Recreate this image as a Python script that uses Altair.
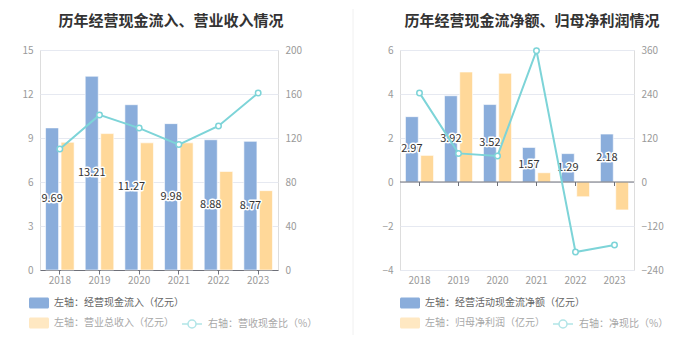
import altair as alt
import pandas as pd

years = ["2018", "2019", "2020", "2021", "2022", "2023"]

# left panel (亿元 / %)
inflow = [9.69, 13.21, 11.27, 9.98, 8.88, 8.77]
revenue = [8.71, 9.30, 8.67, 8.67, 6.72, 5.41]
cash_ratio = [110, 141, 129, 114, 131, 161]

# right panel (亿元 / %)
net_cf = [2.97, 3.92, 3.52, 1.57, 1.29, 2.18]
net_profit = [1.21, 5.00, 4.94, 0.42, -0.67, -1.27]
net_ratio = [243, 78, 71, 358, -191, -172]

L_TITLE = "历年经营现金流入、营业收入情况"
R_TITLE = "历年经营现金流净额、归母净利润情况"
L_NAMES = ["左轴：经营现金流入（亿元）", "左轴：营业总收入（亿元）", "右轴：营收现金比（%）"]
R_NAMES = ["左轴：经营活动现金流净额（亿元）", "左轴：归母净利润（亿元）", "右轴：净现比（%）"]

FONT = "Noto Sans CJK SC"
BLUE = "#8aaddb"
ORANGE = "#ffd899"
TEAL = "#7dd4d8"
AXIS = "#6e7079"
GRID = "#e6e9f1"
LABEL = "#9a9a9a"

BAR_SYMBOL = ("M-0.85,-0.55H0.85A0.15,0.15 0 0 1 1,-0.4V0.4A0.15,0.15 0 0 1 0.85,0.55"
              "H-0.85A0.15,0.15 0 0 1 -1,0.4V-0.4A0.15,0.15 0 0 1 -0.85,-0.55Z")
LINE_SYMBOL = "M-1,0H-0.4M0.4,0H1M-0.4,0A0.4,0.4 0 1 0 0.4,0A0.4,0.4 0 1 0 -0.4,0"

H = 220


def bar_legend(x, y, opacity, color):
    return alt.Legend(title=None, orient="none", legendX=x, legendY=y, padding=0,
                      symbolType=BAR_SYMBOL, symbolSize=400, symbolStrokeWidth=0,
                      symbolOpacity=opacity, labelColor=color, labelFontSize=10,
                      labelFont=FONT, labelLimit=500, labelOffset=5)


def line_legend(x, y):
    return alt.Legend(title=None, orient="none", legendX=x, legendY=y, padding=0,
                      symbolType=LINE_SYMBOL, symbolSize=400, symbolStrokeWidth=1.5,
                      symbolFillColor="white", symbolOpacity=0.6, labelColor="#a8a8a8",
                      labelFontSize=10, labelFont=FONT, labelLimit=500, labelOffset=5)


def panel(title, dx, names, bar1, bar2, ratio, ydom, yvals, rdom, rvals, width,
          zero_axis, lx, line_lx, rules):
    n1, n2, n3 = names
    df = pd.DataFrame({"year": years * 2, "series": [n1] * 6 + [n2] * 6,
                       "value": bar1 + bar2})
    dl = pd.DataFrame({"year": years, "series": [n3] * 6, "ratio": ratio})
    one = pd.DataFrame({"a": [0]})

    if zero_axis:
        xaxis = alt.Axis(title=None, labelAngle=0, domainOpacity=0, tickOpacity=0,
                         tickSize=4, labelPadding=1, labelColor=LABEL, labelFontSize=10,
                         grid=False)
    else:
        xaxis = alt.Axis(title=None, labelAngle=0, domainColor=AXIS, tickColor=AXIS,
                         tickSize=4, labelPadding=1, labelColor=LABEL, labelFontSize=10,
                         grid=False)
    x = alt.X("year:N", sort=years, scale=alt.Scale(paddingInner=0.28, paddingOuter=0.14),
              axis=xaxis)
    xo = alt.XOffset("series:N", scale=alt.Scale(domain=[n1, n2], paddingInner=0.16,
                                                 paddingOuter=0))
    yscale = alt.Scale(domain=ydom, nice=False, zero=False)
    yaxis = alt.Axis(values=yvals, title=None, domain=False, ticks=False, tickSize=0,
                     labelColor=LABEL, labelFontSize=10, labelPadding=7,
                     gridColor=GRID, grid=True, orient="left")

    def Y(field):
        return alt.Y(field, scale=yscale, axis=yaxis)

    base = alt.Chart(df)
    blue = base.transform_filter(alt.datum.series == n1).mark_bar(
        stroke="white", strokeWidth=1, strokeOpacity=0.6).encode(
        x=x, xOffset=xo, y=Y("value:Q"),
        color=alt.Color("series:N", scale=alt.Scale(domain=[n1], range=[BLUE]),
                        legend=bar_legend(lx, 243, 1, "#666666")))
    orange = base.transform_filter(alt.datum.series == n2).mark_bar(
        stroke="white", strokeWidth=1, strokeOpacity=0.6).encode(
        x=x, xOffset=xo, y=Y("value:Q"),
        fill=alt.Fill("series:N", scale=alt.Scale(domain=[n2], range=[ORANGE]),
                      legend=bar_legend(lx, 263, 0.6, "#a8a8a8")))
    tbase = base.transform_filter(alt.datum.series == n1).transform_calculate(
        mid="datum.value / 2")
    halo = tbase.mark_text(fontSize=11, stroke="white", strokeWidth=3, strokeJoin="round",
                           color="white").encode(
        x=x, xOffset=xo, y=Y("mid:Q"), text=alt.Text("value:Q", format=".2f"))
    text = tbase.mark_text(fontSize=11, color="#333333").encode(
        x=x, xOffset=xo, y=Y("mid:Q"), text=alt.Text("value:Q", format=".2f"))

    layers = [blue, orange, halo, text]
    if zero_axis:
        zline = alt.Chart(one).mark_rule(color=AXIS, strokeWidth=1).encode(
            y=alt.Y(datum=0, type="quantitative", scale=yscale, axis=yaxis),
            x=alt.value(0), x2=alt.value(width))
        zticks = alt.Chart(dl).mark_rule(color=AXIS, strokeWidth=1, y2Offset=4).encode(
            x=x, y=alt.Y(datum=0, type="quantitative", scale=yscale, axis=yaxis),
            y2=alt.Y2(datum=0))
        layers += [zline, zticks]
    for rx, rc in rules:
        layers.append(alt.Chart(one).mark_rule(color=rc, strokeWidth=1).encode(
            x=alt.value(rx), y=alt.value(-41), y2=alt.value(285)))

    left = alt.layer(*layers)

    line = alt.Chart(dl).mark_line(
        strokeWidth=2,
        point=alt.OverlayMarkDef(filled=True, fill="white", size=30, strokeWidth=1.5)).encode(
        x=x,
        y=alt.Y("ratio:Q", scale=alt.Scale(domain=rdom, nice=False, zero=False),
                axis=alt.Axis(values=rvals, title=None, domain=False, ticks=False,
                              tickSize=0, labelColor=LABEL, labelFontSize=10,
                              labelPadding=7, grid=False, orient="right")),
        stroke=alt.Stroke("series:N", scale=alt.Scale(domain=[n3], range=[TEAL]),
                          legend=line_legend(line_lx, 263)))

    return alt.layer(left, line).resolve_scale(y="independent").properties(
        width=width, height=H,
        title=alt.TitleParams(title, fontSize=15, fontWeight="bold", color="#333333",
                              font=FONT, frame="group", anchor="middle", dx=dx, dy=20,
                              offset=0))


left_panel = panel(L_TITLE, 12, L_NAMES, inflow, revenue, cash_ratio,
                   [0, 15], [0, 3, 6, 9, 12, 15], [0, 200], [0, 40, 80, 120, 160, 200],
                   238, False, -11, 141, [(-31, "white"), (311, "white")])
right_panel = panel(R_TITLE, 15, R_NAMES, net_cf, net_profit, net_ratio,
                    [-4, 6], [-4, -2, 0, 2, 4, 6], [-240, 360],
                    [-240, -120, 0, 120, 240, 360],
                    234, True, 0, 152, [(-47, "#f0f0f0")])

chart = alt.hconcat(left_panel, right_panel, spacing=0).resolve_scale(
    color="independent", fill="independent", stroke="independent", xOffset="independent",
    x="independent", y="independent").resolve_legend(
    color="independent", fill="independent", stroke="independent").properties(
    padding={"left": 0, "top": 0, "right": 0, "bottom": 0}).configure_view(
    stroke=None).configure(font=FONT)

chart.save("out.html", embed_options={"renderer": "svg", "actions": False})
